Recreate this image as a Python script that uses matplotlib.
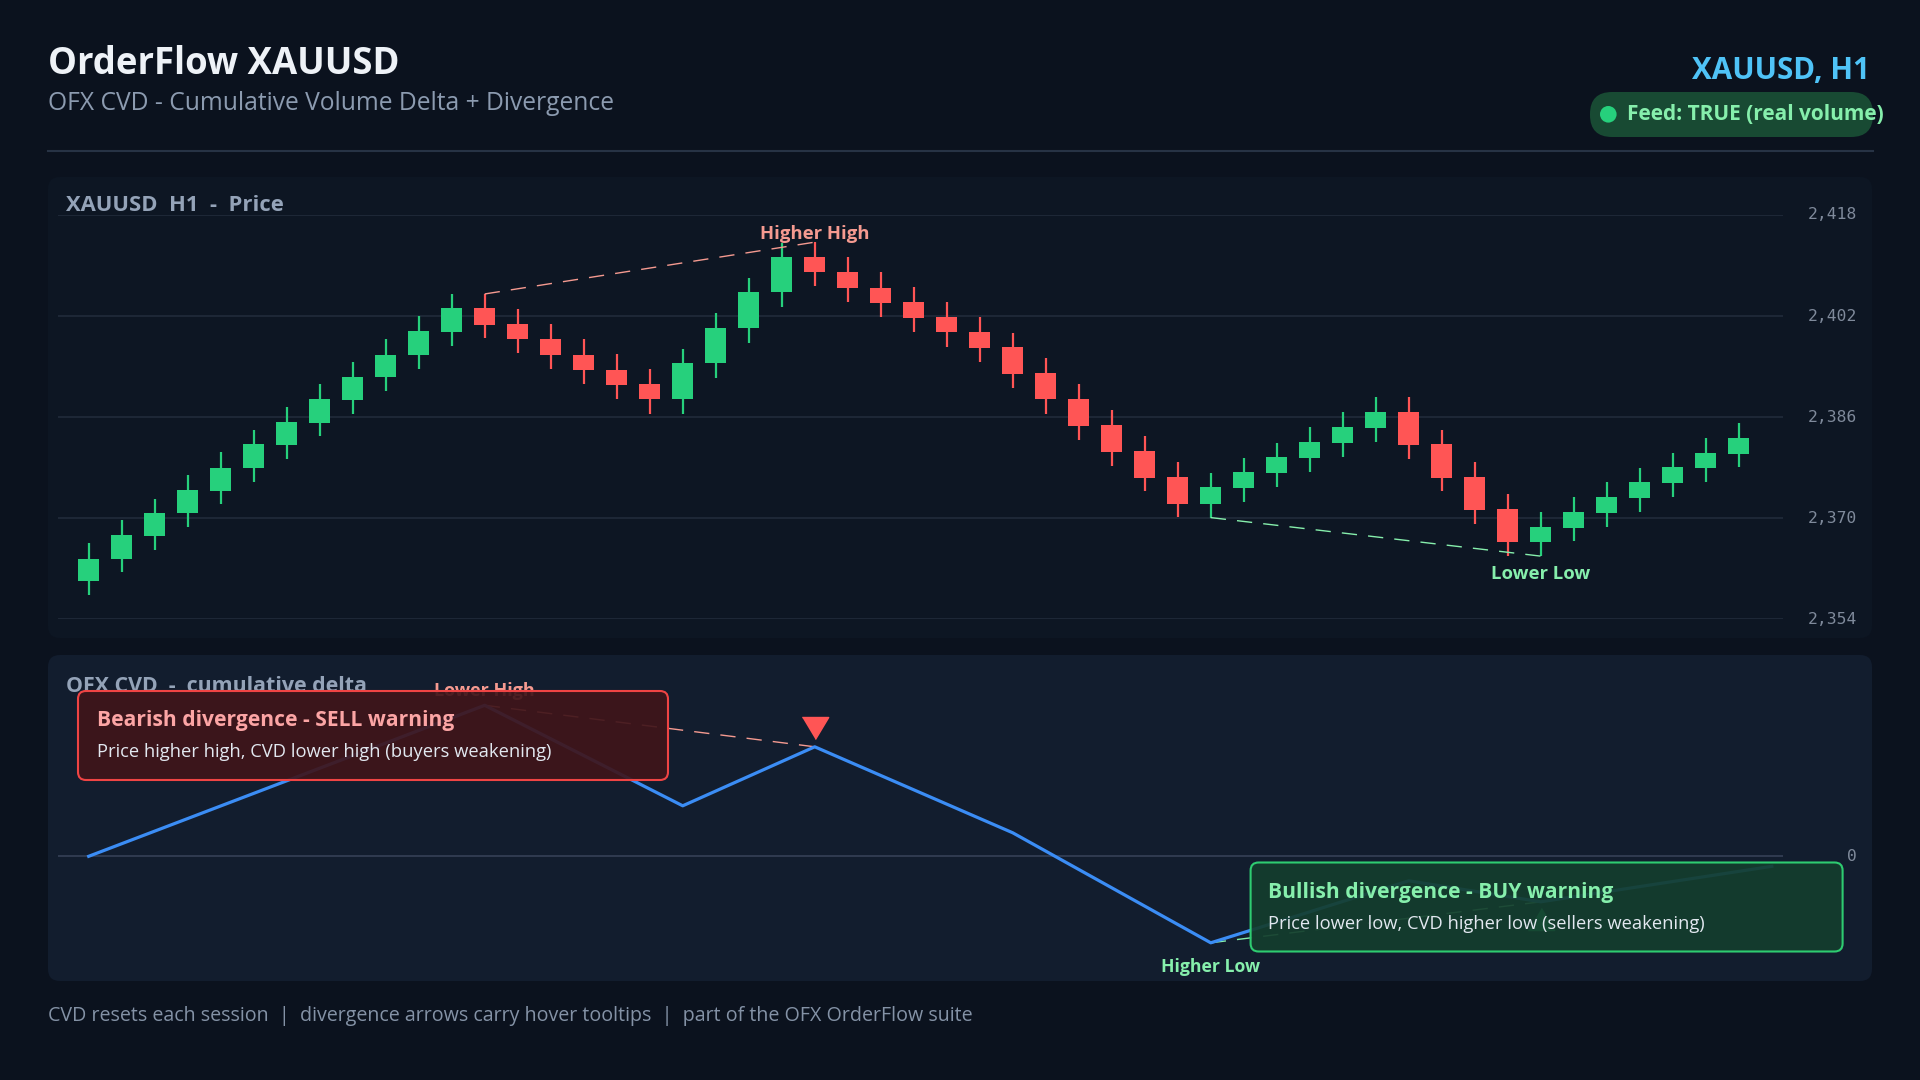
import matplotlib.pyplot as plt
from matplotlib.patches import FancyBboxPatch, Circle
from matplotlib.transforms import offset_copy
from matplotlib.colors import to_rgba
import numpy as np

# ---- data ----
opens = [2360.1, 2363.6, 2367.2, 2370.9, 2374.3, 2378.0, 2381.6, 2385.1, 2388.7, 2392.4,
         2395.9, 2399.5, 2403.2, 2400.7, 2398.3, 2395.9, 2393.5, 2391.2, 2388.8, 2394.5,
         2400.1, 2405.8, 2411.3, 2408.9, 2406.5, 2404.2, 2401.8, 2399.4, 2397.1, 2393.0,
         2388.9, 2384.7, 2380.6, 2376.5, 2372.3, 2374.8, 2377.2, 2379.6, 2381.9, 2384.3,
         2386.8, 2381.7, 2376.5, 2371.4, 2366.3, 2368.5, 2370.9, 2373.2, 2375.6, 2378.0,
         2380.2]
highs = [2366.0, 2369.7, 2373.1, 2376.8, 2380.5, 2383.9, 2387.6, 2391.2, 2394.7, 2398.4,
         2402.0, 2405.5, 2405.5, 2403.1, 2400.7, 2398.4, 2396.0, 2393.6, 2396.8, 2402.5,
         2408.0, 2413.6, 2413.7, 2411.4, 2409.0, 2406.6, 2404.2, 2401.8, 2399.3, 2395.4,
         2391.2, 2387.1, 2383.0, 2378.9, 2377.1, 2379.5, 2381.9, 2384.4, 2386.8, 2389.2,
         2389.2, 2384.0, 2378.9, 2373.8, 2371.0, 2373.3, 2375.7, 2377.9, 2380.3, 2382.7,
         2385.1]
lows = [2357.8, 2361.5, 2364.9, 2368.6, 2372.2, 2375.7, 2379.4, 2383.0, 2386.5, 2390.1,
        2393.6, 2397.3, 2398.5, 2396.1, 2393.7, 2391.3, 2388.9, 2386.5, 2386.5, 2392.2,
        2397.8, 2403.5, 2406.7, 2404.3, 2401.9, 2399.5, 2397.1, 2394.8, 2390.6, 2386.5,
        2382.4, 2378.2, 2374.3, 2370.2, 2370.1, 2372.5, 2374.9, 2377.3, 2379.7, 2382.0,
        2379.4, 2374.3, 2369.1, 2364.0, 2364.0, 2366.4, 2368.6, 2371.0, 2373.3, 2375.7,
        2378.1]
closes = [2363.6, 2367.3, 2370.9, 2374.4, 2378.0, 2381.7, 2385.2, 2388.8, 2392.4, 2395.9,
          2399.6, 2403.2, 2400.6, 2398.3, 2395.9, 2393.5, 2391.1, 2388.8, 2394.5, 2400.1,
          2405.8, 2411.3, 2408.9, 2406.5, 2404.1, 2401.7, 2399.4, 2397.0, 2392.9, 2388.8,
          2384.6, 2380.5, 2376.4, 2372.3, 2374.9, 2377.3, 2379.7, 2382.0, 2384.4, 2386.8,
          2381.6, 2376.4, 2371.3, 2366.3, 2368.6, 2371.0, 2373.3, 2375.7, 2378.1, 2380.3,
          2382.7]
price_ticks = [2354, 2370, 2386, 2402, 2418]

# CVD pivots (bar index, cumulative delta)
cvd_idx = [0, 12, 18, 22, 28, 34, 40, 44, 51]
cvd_val = [0, 3020, 1010, 2190, 470, -1730, -490, -910, -200]

bear_pair = (12, 22)   # price higher high / cvd lower high
bull_pair = (34, 44)   # price lower low / cvd higher low

# ---- style ----
W, H = 1920, 1080
BG = '#0b121e'
PANEL1 = '#0d1623'
PANEL2 = '#121d2e'
GRID = '#222d3d'
GREEN = '#26d07c'
RED = '#ff5555'
RED_SOFT = '#f59a90'
GREEN_SOFT = '#86efac'
LABEL = '#94a3b8'
TICK = '#7f8a9b'

plt.rcParams['font.family'] = ['Open Sans', 'DejaVu Sans']

fig = plt.figure(figsize=(19.2, 10.8), dpi=100, facecolor=BG)


def rect(x0, y0, x1, y1):
    return [x0 / W, 1 - y1 / H, (x1 - x0) / W, (y1 - y0) / H]


def px_axes(z):
    a = fig.add_axes([0, 0, 1, 1], zorder=z)
    a.set_xlim(0, W)
    a.set_ylim(H, 0)
    a.axis('off')
    a.patch.set_alpha(0)
    return a


bg = px_axes(0)

# header
bg.text(48, 74, 'OrderFlow XAUUSD', fontsize=26.3, fontweight='bold', color='#eef2f7', va='baseline')
bg.text(48, 110.5, 'OFX CVD - Cumulative Volume Delta + Divergence', fontsize=17.7,
        color='#8c9bb0', va='baseline')
bg.text(1870, 79, 'XAUUSD, H1', fontsize=21.3, fontweight='bold', color='#4fc3f7',
        ha='right', va='baseline')
bg.add_patch(FancyBboxPatch((1590, 92), 283, 45, boxstyle='round,pad=0,rounding_size=22',
                            fc='#184a33', ec='none'))
bg.add_patch(Circle((1608.3, 114.3), 8.3, fc=GREEN, ec='none'))
bg.text(1627, 120, 'Feed: TRUE (real volume)', fontsize=15.05, fontweight='bold',
        color=GREEN_SOFT, va='baseline')
bg.plot([48, 1873], [151, 151], color='#273345', lw=1.5)

# panels
bg.add_patch(FancyBboxPatch((48, 177), 1824, 461, boxstyle='round,pad=0,rounding_size=12',
                            fc=PANEL1, ec='none'))
bg.add_patch(FancyBboxPatch((48, 655), 1824, 326, boxstyle='round,pad=0,rounding_size=12',
                            fc=PANEL2, ec='none'))
bg.text(66, 211, 'XAUUSD  H1  -  Price', fontsize=15.8, fontweight='bold', color=LABEL,
        va='baseline')
bg.text(66, 691.5, 'OFX CVD  -  cumulative delta', fontsize=15.4, fontweight='bold',
        color=LABEL, va='baseline')

# footer
bg.text(48, 1021, 'CVD resets each session  |  divergence arrows carry hover tooltips  |  '
        'part of the OFX OrderFlow suite', fontsize=14.1, color='#8492a6', va='baseline')

XLIM = (-0.93, 51.33)
dash = (0, (11, 8))

# ---- price panel ----
ax1 = fig.add_axes(rect(58, 215, 1782.7, 619.3), zorder=1)
ax1.patch.set_alpha(0)
x = np.arange(len(opens))
o, h, l, c = map(np.array, (opens, highs, lows, closes))
cols = np.where(c >= o, GREEN, RED)
ax1.vlines(x, l, h, color=cols, lw=1.6, zorder=2)
ax1.bar(x, np.abs(c - o), bottom=np.minimum(o, c), width=0.63, color=cols, zorder=3)
ax1.set_xlim(*XLIM)
ax1.set_ylim(price_ticks[0], price_ticks[-1])
ax1.set_yticks(price_ticks)
ax1.set_yticklabels([f'{v:,}' for v in price_ticks])
ax1.set_xticks([])
ax1.grid(axis='y', color=GRID, lw=1.1)
ax1.set_axisbelow(True)
for s in ax1.spines.values():
    s.set_visible(False)

a, b = bear_pair
ax1.plot([a, b], [h[a], h[b]], color=RED_SOFT, lw=1, ls=dash, zorder=4)
ax1.annotate('Higher High', (b, h[b]), xytext=(0, 2), textcoords='offset points',
             ha='center', va='baseline', fontsize=13.3, fontweight='bold', color=RED_SOFT,
             annotation_clip=False)
a, b = bull_pair
ax1.plot([a, b], [l[a], l[b]], color=GREEN_SOFT, lw=1, ls=dash, zorder=4)
ax1.annotate('Lower Low', (b, l[b]), xytext=(0, -16.5), textcoords='offset points',
             ha='center', va='baseline', fontsize=13.3, fontweight='bold', color=GREEN_SOFT,
             annotation_clip=False)

# ---- CVD panel ----
ax2 = fig.add_axes(rect(58, 680, 1782.7, 975), zorder=1)
ax2.patch.set_alpha(0)
ax2.set_xlim(*XLIM)
ax2.set_ylim(-2374, 3526)
ax2.axhline(0, color='#38445a', lw=1.1, zorder=1)
ax2.plot(cvd_idx, cvd_val, color='#3b8df5', lw=2.3, zorder=3)
ax2.set_yticks([0])
ax2.set_yticklabels(['0'])
ax2.set_xticks([])
for s in ax2.spines.values():
    s.set_visible(False)

cvd_at = dict(zip(cvd_idx, cvd_val))
a, b = bear_pair
ax2.plot([a, b], [cvd_at[a], cvd_at[b]], color=RED_SOFT, lw=1, ls=dash, zorder=2)
ax2.annotate('Lower High', (a, cvd_at[a]), xytext=(0, 7), textcoords='offset points',
             ha='center', va='baseline', fontsize=13, fontweight='bold', color=RED_SOFT)
ax2.plot([b], [cvd_at[b]], ls='none', marker=[(-1.2, 1), (1.2, 1), (0, -1)], ms=19,
         color=RED, transform=offset_copy(ax2.transData, fig=fig, y=19.3, units='dots'), zorder=4)
a, b = bull_pair
ax2.plot([a, b], [cvd_at[a], cvd_at[b]], color=GREEN_SOFT, lw=1, ls=dash, zorder=2)
ax2.annotate('Higher Low', (a, cvd_at[a]), xytext=(0, -20.7), textcoords='offset points',
             ha='center', va='baseline', fontsize=12.7, fontweight='bold', color=GREEN_SOFT,
             annotation_clip=False)
ax2.plot([b], [cvd_at[b]], ls='none', marker=[(-1.2, -1), (1.2, -1), (0, 1)], ms=19,
         color=GREEN, transform=offset_copy(ax2.transData, fig=fig, y=-17.3, units='dots'), zorder=4)

for ax in (ax1, ax2):
    ax.yaxis.tick_right()
    ax.tick_params(axis='y', length=0, pad=53.5, labelsize=11.8, labelcolor=TICK)
    for lbl in ax.get_yticklabels():
        lbl.set_fontfamily('DejaVu Sans Mono')
        lbl.set_horizontalalignment('right')
        lbl.set_verticalalignment('center')

# ---- divergence callouts ----
ov = px_axes(3)
ov.add_patch(FancyBboxPatch((78, 691), 590, 89, boxstyle='round,pad=0,rounding_size=8',
                            fc=to_rgba('#3f151a', 0.92), ec='#ef4444', lw=1.5))
ov.text(96.7, 725.7, 'Bearish divergence - SELL warning', fontsize=15.1, fontweight='bold',
        color='#fca5a5', va='baseline')
ov.text(96.7, 757.3, 'Price higher high, CVD lower high (buyers weakening)', fontsize=13.25,
        color='#e2e8f0', va='baseline')
ov.add_patch(FancyBboxPatch((1250.6, 862.5), 592, 89, boxstyle='round,pad=0,rounding_size=8',
                            fc=to_rgba('#143d2d', 0.92), ec='#2ecc71', lw=1.5))
ov.text(1268.3, 898.3, 'Bullish divergence - BUY warning', fontsize=15.1, fontweight='bold',
        color=GREEN_SOFT, va='baseline')
ov.text(1268.3, 929.3, 'Price lower low, CVD higher low (sellers weakening)', fontsize=13.2,
        color='#e2e8f0', va='baseline')

fig.savefig('out.png', dpi=100, facecolor=BG)
